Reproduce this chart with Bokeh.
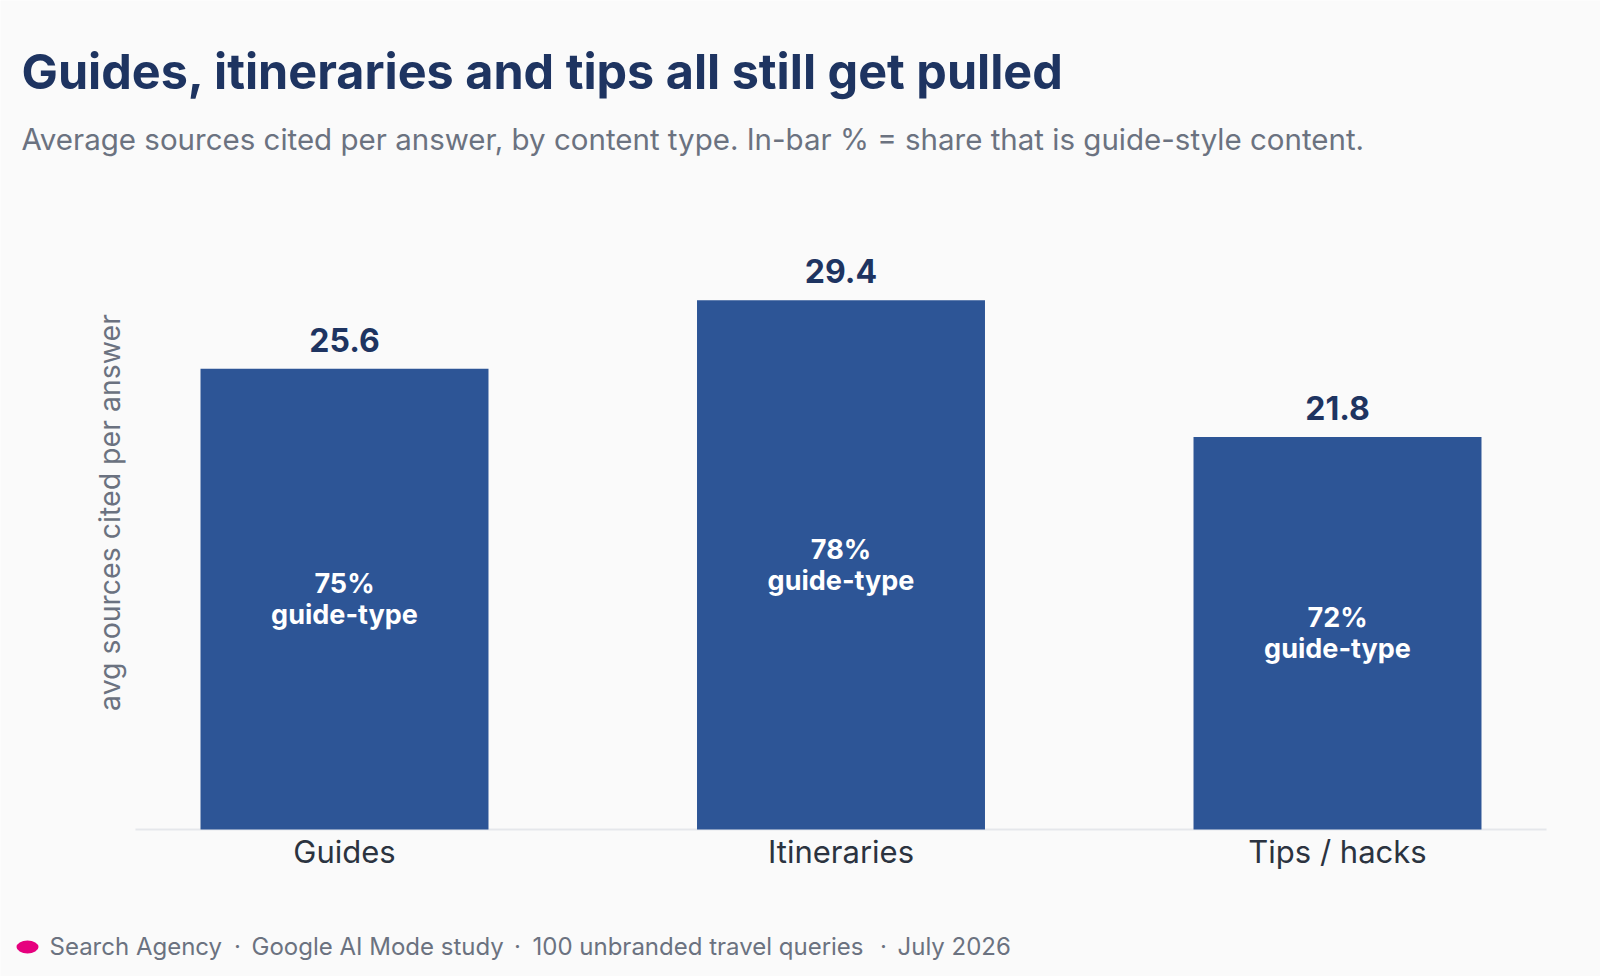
import math
from bokeh.plotting import figure
from bokeh.models import Label, Range1d
from bokeh.core.properties import value
from bokeh.embed import file_html
from bokeh.resources import INLINE

# ---- data ----
categories = ["Guides", "Itineraries", "Tips / hacks"]
avg_sources = [25.6, 29.4, 21.8]
guide_share = [75, 78, 72]

title_text = "Guides, itineraries and tips all still get pulled"
subtitle_text = "Average sources cited per answer, by content type. In-bar % = share that is guide-style content."
y_label = "avg sources cited per answer"
footer_parts = ["Search Agency", "Google AI Mode study", "100 unbranded travel queries", "July 2026"]

# ---- style ----
FONT = "Inter"
BG = "#fafafa"
NAVY = "#1e3461"
BAR = "#2d5596"
GRAY = "#6b7280"
DARK = "#2b3340"
PINK = "#e6007e"

W, H = 1600, 976
# layout of the plotting area (canvas px)
CAT_PX = 496.5          # px per category slot
FIRST_CENTER = 344      # px of first category centre
BASE_Y = 829            # px of value 0
PX_PER_UNIT = 18.0      # px per "source"

x_start = -FIRST_CENTER / CAT_PX
x_end = x_start + W / CAT_PX
y_start = -(H - BASE_Y) / PX_PER_UNIT
y_end = BASE_Y / PX_PER_UNIT

p = figure(
    x_range=Range1d(x_start, x_end),
    y_range=Range1d(y_start, y_end),
    width=W, height=H,
    output_backend="svg", toolbar_location=None,
    x_axis_location=None, y_axis_location=None,
    min_border=0,
    background_fill_color=BG, border_fill_color=BG,
    outline_line_color=None,
)
p.grid.visible = False

idx = list(range(len(categories)))
src = dict(
    x=idx,
    cat=categories,
    val=avg_sources,
    zero=[0] * len(categories),
    half=[v / 2 for v in avg_sources],
    vtxt=[f"{v:.1f}" for v in avg_sources],
    itxt=[f"{s}%\nguide-type" for s in guide_share],
)

# baseline (category axis line)
p.segment(x0=idx[0] - 0.421, x1=idx[-1] + 0.421, y0=0, y1=0,
          line_color="#e5e7eb", line_width=2)

p.vbar(x="x", top="val", width=0.58, source=src, fill_color=BAR, line_color=None)

p.text(x="x", y="val", text="vtxt", source=src, y_offset=-29,
       text_align="center", text_baseline="middle",
       text_font=value(FONT), text_font_style="bold", text_font_size="32px",
       text_color=NAVY)

p.text(x="x", y="half", text="itxt", source=src,
       text_align="center", text_baseline="middle", text_line_height=0.95,
       text_font=value(FONT), text_font_style="bold", text_font_size="27px",
       text_color="white")

# category labels
p.text(x="x", y="zero", text="cat", source=src, y_offset=22,
       text_align="center", text_baseline="middle",
       text_font=value(FONT), text_font_size="31px", text_color=DARK)


def lab(cx, cy, text, **kw):
    # cx, cy: canvas px from top-left; frame covers the whole canvas
    p.add_layout(Label(x=cx, y=H - cy, x_units="screen", y_units="screen",
                       text=text, text_font=FONT, **kw))


# y-axis title
lab(109, 512, y_label, angle=math.pi / 2, text_font_size="28.5px",
    text_color=GRAY, text_align="center", text_baseline="middle")

# title and subtitle
lab(21, 71, title_text, text_font_size="48.5px", text_font_style="bold",
    text_color=NAVY, text_baseline="alphabetic")
lab(21, 138, subtitle_text, text_font_size="29.5px", text_color=GRAY,
    text_baseline="alphabetic")

# footer
dot_x = x_start + 27 / CAT_PX
dot_y = (BASE_Y - 946.5) / PX_PER_UNIT
p.ellipse(x=dot_x, y=dot_y, width=22, height=13, width_units="screen",
          height_units="screen", fill_color=PINK, line_color=None)
part_x = [49, 251, 532, 897]
sep_x = [237, 517, 883]
for x, t in zip(part_x, footer_parts):
    lab(x, 946, t, text_font_size="24px", text_color=GRAY, text_baseline="alphabetic")
for x in sep_x:
    lab(x, 946, "\u00b7", text_font_size="24px", text_color=GRAY,
        text_baseline="alphabetic", text_align="center")

open("out.html", "w").write(file_html(p, INLINE))
